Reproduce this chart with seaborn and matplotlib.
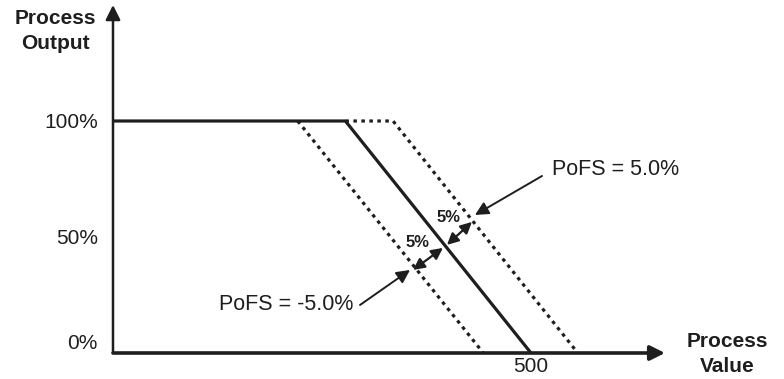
import numpy as np
import pandas as pd
import seaborn as sns
import matplotlib
matplotlib.use("Agg")
import matplotlib.pyplot as plt

# process value (x) / process output in % (y)
solid_x = [0, 278, 500]
solid_y = [100, 100, 0]
neg_x = [221, 443]            # PoFS = -5.0 %
neg_y = [100, 0]
pos_x = [278, 335, 556]       # PoFS = +5.0 %
pos_y = [100, 100, 0]

ytick_vals = [0, 50, 100]
ytick_labels = ["0%", "50%", "100%"]
xtick_vals = [500]
xtick_labels = ["500"]

# 5% spacing arrows (start, end) and their labels
gap_left = [(358.9, 35.8), (394.7, 45.3)]
gap_right = [(399.5, 46.6), (429.4, 56.5)]
gap_text = "5%"
gap_text_pos = [(364.8, 47.8), (401.9, 58.6)]

# callouts: text, text position, arrow tail, arrow head
callouts = [
    ("PoFS = 5.0%", (525, 78.9), (513.2, 76.3), (433.0, 59.5), "left"),
    ("PoFS = -5.0%", (287, 20.7), (295.5, 20.7), (355.3, 35.8), "right"),
]

ink = "#1e1e1e"

sns.set_theme(style="white")
plt.rcParams["font.family"] = ["Liberation Sans", "DejaVu Sans"]

fig = plt.figure(figsize=(7.84, 3.79), dpi=100)
ax = fig.add_axes([113 / 784, 26 / 379, 552 / 784, 348 / 379])
ax.set_xlim(0, 660.3)
ax.set_ylim(0, 150)

sns.lineplot(x=solid_x, y=solid_y, ax=ax, color=ink, lw=2.3, sort=False,
             estimator=None)
sns.lineplot(x=neg_x, y=neg_y, ax=ax, color=ink, lw=2.3, sort=False,
             estimator=None, linestyle=(0, (1.1, 1.4)))
sns.lineplot(x=pos_x, y=pos_y, ax=ax, color=ink, lw=2.3, sort=False,
             estimator=None, linestyle=(0, (1.1, 1.4)))

for s in ax.spines.values():
    s.set_visible(False)
ax.grid(False)

# axis arrows
ax.annotate("", xy=(1, 0), xytext=(0, 0), xycoords="axes fraction",
            arrowprops=dict(arrowstyle="-|>", lw=2.6, color=ink,
                            mutation_scale=22, shrinkA=0, shrinkB=0))
ax.annotate("", xy=(0, 1), xytext=(0, 0), xycoords="axes fraction",
            arrowprops=dict(arrowstyle="-|>", lw=1.8, color=ink,
                            mutation_scale=22, shrinkA=0, shrinkB=0))

ax.set_yticks(ytick_vals)
ax.set_yticklabels(ytick_labels)
ax.set_xticks(xtick_vals)
ax.set_xticklabels(xtick_labels)
ax.tick_params(axis="y", length=0, pad=11, labelsize=15, labelcolor=ink)
ax.tick_params(axis="x", length=0, pad=3, labelsize=15, labelcolor=ink)
ax.get_yticklabels()[0].set_verticalalignment("bottom")

for (a, b) in (gap_left, gap_right):
    ax.annotate("", xy=b, xytext=a,
                arrowprops=dict(arrowstyle="<|-|>", lw=1.6, color=ink,
                                mutation_scale=17, shrinkA=0, shrinkB=0))
for pos in gap_text_pos:
    ax.text(pos[0], pos[1], gap_text, ha="center", va="center",
            fontsize=12, fontweight="bold", color=ink)

for txt, tpos, tail, head, ha in callouts:
    ax.annotate("", xy=head, xytext=tail,
                arrowprops=dict(arrowstyle="-|>", lw=1.4, color=ink,
                                mutation_scale=20, shrinkA=0, shrinkB=0))
    ax.text(tpos[0], tpos[1], txt, ha=ha, va="center", fontsize=15.5,
            color=ink)

fig.text(55 / 784, 1 - 31 / 379, "Process\nOutput", ha="center", va="center",
         fontsize=15, fontweight="bold", color=ink, linespacing=1.35)
fig.text(727 / 784, 1 - 354 / 379, "Process\nValue", ha="center",
         va="center", fontsize=15, fontweight="bold", color=ink,
         linespacing=1.35)

fig.savefig("out.png", dpi=100)
